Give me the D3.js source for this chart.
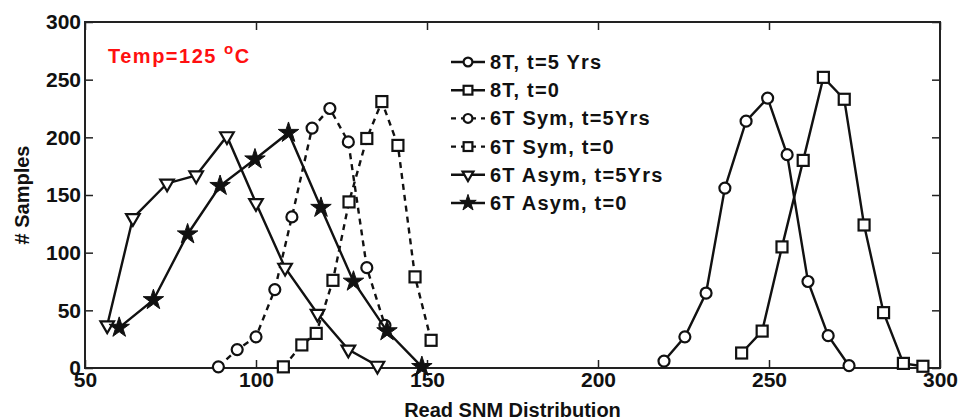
<!DOCTYPE html>
<html>
<head>
<meta charset="utf-8">
<script src="https://cdn.jsdelivr.net/npm/d3@7"></script>
<style>
  html, body { margin: 0; padding: 0; background: #fff; }
  #chart svg { display: block; }
  .tick text { font-family: "Liberation Sans", Arial, sans-serif; font-weight: bold; font-size: 21px; fill: #111; }
</style>
</head>
<body>
<div id="chart"></div>
<script>
// ---- data ----
const seriesNames = ["8T, t=5 Yrs", "8T, t=0", "6T Sym, t=5Yrs", "6T Sym, t=0", "6T Asym, t=5Yrs", "6T Asym, t=0"];

const t8y5X = [219.3, 225.4, 231.6, 237.1, 243.3, 249.6, 255.3, 261.4, 267.3, 273.4];
const t8y5Y = [6, 27, 65, 156, 214, 234, 185, 75, 28, 2];
const t8y0X = [242, 248, 253.8, 260, 265.9, 272, 277.8, 283.5, 289.3, 295];
const t8y0Y = [13, 32, 105, 180, 252, 233, 124, 48, 4, 1.5];
const symY5X = [89, 94.5, 100, 105.5, 110.5, 116.4, 121.6, 127, 132.4, 137.7];
const symY5Y = [1, 16, 27, 68, 131, 208, 225, 196, 87, 37];
const symY0X = [108, 113.4, 117.6, 122.5, 127.2, 132.4, 136.8, 141.5, 146.5, 151.2];
const symY0Y = [1, 20, 30, 76, 144, 199, 231, 193, 79, 24];
const asymY5X = [56.5, 64, 74, 82.5, 91.5, 100, 108.5, 118, 127, 135.5];
const asymY5Y = [37, 130, 160, 167, 201, 143, 87, 47, 16, 2];
const asymY0X = [60, 70, 80, 89.5, 99.7, 109.5, 119, 128.5, 138.3, 148.5];
const asymY0Y = [35, 59, 116, 158, 181, 204, 139, 75, 32, 1];

const xTicks = [50, 100, 150, 200, 250, 300];
const yTicks = [0, 50, 100, 150, 200, 250, 300];

(function () {
    const W = 960, H = 419;
    const MARGIN = { top: 22, right: 20, bottom: 51, left: 85 };
    const innerW = W - MARGIN.left - MARGIN.right;
    const innerH = H - MARGIN.top - MARGIN.bottom;
    const FONT = '"Liberation Sans", Arial, sans-serif';

    const zip = (xs, ys) => xs.map((x, i) => ({ x, y: ys[i] }));
    const series = [
        { name: seriesNames[0], pts: zip(t8y5X, t8y5Y), marker: 'circle', dash: null },
        { name: seriesNames[1], pts: zip(t8y0X, t8y0Y), marker: 'square', dash: null },
        { name: seriesNames[2], pts: zip(symY5X, symY5Y), marker: 'circle', dash: '6,5' },
        { name: seriesNames[3], pts: zip(symY0X, symY0Y), marker: 'square', dash: '6,5' },
        { name: seriesNames[4], pts: zip(asymY5X, asymY5Y), marker: 'triangle', dash: null },
        { name: seriesNames[5], pts: zip(asymY0X, asymY0Y), marker: 'star', dash: null }
    ];

    const svg = d3.select('#chart').append('svg').attr('width', W).attr('height', H);
    const g = svg.append('g').attr('transform', `translate(${MARGIN.left},${MARGIN.top})`);

    const x = d3.scaleLinear().domain([50, 300]).range([0, innerW]);
    const y = d3.scaleLinear().domain([0, 300]).range([innerH, 0]);

    // axes, ticks pointing inward
    g.append('g').attr('transform', `translate(0,${innerH})`)
        .call(d3.axisBottom(x).tickValues(xTicks).tickSizeInner(-8).tickSizeOuter(0).tickPadding(4));
    g.append('g')
        .call(d3.axisLeft(y).tickValues(yTicks).tickSizeInner(-8).tickSizeOuter(0).tickPadding(4));
    g.append('g')
        .call(d3.axisTop(x).tickValues(xTicks).tickSizeInner(-8).tickSizeOuter(0).tickFormat(''));
    g.append('g').attr('transform', `translate(${innerW},0)`)
        .call(d3.axisRight(y).tickValues(yTicks).tickSizeInner(-8).tickSizeOuter(0).tickFormat(''));
    g.selectAll('.domain').remove();
    g.selectAll('.tick line').attr('stroke', '#222').attr('stroke-width', 1.5);

    g.append('rect')
        .attr('width', innerW).attr('height', innerH)
        .attr('fill', 'none').attr('stroke', '#222').attr('stroke-width', 2);

    // markers
    function drawMarker(sel, type, s) {
        if (type === 'circle') {
            sel.append('circle').attr('r', 5.5 * s)
                .attr('fill', '#fff').attr('stroke', '#111').attr('stroke-width', 2.2);
        } else if (type === 'square') {
            sel.append('rect').attr('x', -5.5 * s).attr('y', -5.5 * s)
                .attr('width', 11 * s).attr('height', 11 * s)
                .attr('fill', '#fff').attr('stroke', '#111').attr('stroke-width', 2.2);
        } else if (type === 'triangle') {
            sel.append('path').attr('d', d3.symbol(d3.symbolTriangle, 80 * s * s)())
                .attr('transform', 'rotate(180)')
                .attr('fill', '#fff').attr('stroke', '#111').attr('stroke-width', 2.2);
        } else {
            sel.append('path').attr('d', d3.symbol(d3.symbolStar, 130 * s * s)())
                .attr('fill', '#111').attr('stroke', '#111').attr('stroke-width', 1);
        }
    }

    const line = d3.line().x(d => x(d.x)).y(d => y(d.y));

    series.forEach(s => {
        g.append('path').datum(s.pts)
            .attr('d', line)
            .attr('fill', 'none').attr('stroke', '#111').attr('stroke-width', 2.4)
            .attr('stroke-dasharray', s.dash);
        g.selectAll(null).data(s.pts).join('g')
            .attr('transform', d => `translate(${x(d.x)},${y(d.y)})`)
            .each(function () { drawMarker(d3.select(this), s.marker, 1); });
    });

    // legend
    const leg = svg.append('g').attr('transform', 'translate(451,62)');
    series.forEach((s, i) => {
        const row = leg.append('g').attr('transform', `translate(0,${i * 28.2})`);
        row.append('line').attr('x1', 0).attr('x2', 34).attr('y1', 0).attr('y2', 0)
            .attr('stroke', '#111').attr('stroke-width', 2.4)
            .attr('stroke-dasharray', s.dash ? '5,5' : null);
        drawMarker(row.append('g').attr('transform', 'translate(17,0)'), s.marker, 0.8);
        row.append('text').attr('x', 39).attr('y', 7)
            .style('font-family', FONT).style('font-weight', 'bold')
            .style('font-size', '20px').style('letter-spacing', '1.2px')
            .attr('fill', '#111').text(s.name);
    });

    // temperature note
    const temp = svg.append('text').attr('x', 108).attr('y', 63)
        .style('font-family', FONT).style('font-weight', 'bold')
        .style('font-size', '20px').style('letter-spacing', '1.5px')
        .attr('fill', '#ff1010');
    temp.append('tspan').text('Temp=125 ');
    temp.append('tspan').attr('dy', -9).style('font-size', '15px').text('o');
    temp.append('tspan').attr('dy', 9).text('C');

    // axis labels
    svg.append('text')
        .attr('x', MARGIN.left + innerW / 2).attr('y', 417)
        .attr('text-anchor', 'middle')
        .style('font-family', FONT).style('font-weight', 'bold').style('font-size', '20px')
        .attr('fill', '#111').text('Read SNM Distribution');

    svg.append('text')
        .attr('transform', `translate(29,${MARGIN.top + innerH / 2}) rotate(-90)`)
        .attr('text-anchor', 'middle')
        .style('font-family', FONT).style('font-weight', 'bold').style('font-size', '20px')
        .attr('fill', '#111').text('# Samples');
})();
</script>
</body>
</html>
